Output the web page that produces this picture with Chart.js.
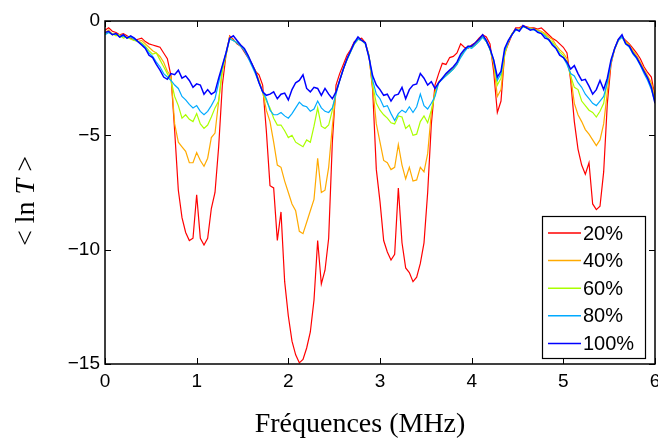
<!DOCTYPE html>
<html>
<head>
<meta charset="utf-8">
<script src="https://cdn.jsdelivr.net/npm/chart.js@4.4.1/dist/chart.umd.min.js"></script>
<style>
  html, body { margin: 0; padding: 0; background: #fff; }
  #wrap { width: 658px; height: 441px; }
</style>
</head>
<body>
<div id="wrap"><canvas id="chart" width="658" height="441"></canvas></div>
<script>
// frequency axis (MHz)
const freq = [
  0, 0.04, 0.08, 0.12, 0.16, 0.2, 0.24, 0.28, 0.32, 0.36,
  0.4, 0.44, 0.48, 0.52, 0.56, 0.6, 0.64, 0.68, 0.72, 0.76,
  0.8, 0.84, 0.88, 0.92, 0.96, 1, 1.04, 1.08, 1.12, 1.16,
  1.2, 1.24, 1.28, 1.32, 1.36, 1.4, 1.44, 1.48, 1.52, 1.56,
  1.6, 1.64, 1.68, 1.72, 1.76, 1.8, 1.84, 1.88, 1.92, 1.96,
  2, 2.04, 2.08, 2.12, 2.16, 2.2, 2.24, 2.28, 2.32, 2.36,
  2.4, 2.44, 2.48, 2.52, 2.56, 2.6, 2.64, 2.68, 2.72, 2.76,
  2.8, 2.84, 2.88, 2.92, 2.96, 3, 3.04, 3.08, 3.12, 3.16,
  3.2, 3.24, 3.28, 3.32, 3.36, 3.4, 3.44, 3.48, 3.52, 3.56,
  3.6, 3.64, 3.68, 3.72, 3.76, 3.8, 3.84, 3.88, 3.92, 3.96,
  4, 4.04, 4.08, 4.12, 4.16, 4.2, 4.24, 4.28, 4.32, 4.36,
  4.4, 4.44, 4.48, 4.52, 4.56, 4.6, 4.64, 4.68, 4.72, 4.76,
  4.8, 4.84, 4.88, 4.92, 4.96, 5, 5.04, 5.08, 5.12, 5.16,
  5.2, 5.24, 5.28, 5.32, 5.36, 5.4, 5.44, 5.48, 5.52, 5.56,
  5.6, 5.64, 5.68, 5.72, 5.76, 5.8, 5.84, 5.88, 5.92, 5.96,
  6
];

// <ln T> pour chaque taux
const lnT20 = [
  -0.4, -0.3, -0.45, -0.5, -0.6, -0.55, -0.65, -0.75, -0.85, -0.8,
  -0.75, -0.9, -1.0, -1.05, -1.1, -1.15, -1.4, -1.65, -2.4, -4.8,
  -7.4, -8.6, -9.25, -9.6, -9.5, -7.6, -9.5, -9.8, -9.5, -8.2,
  -7.5, -5.5, -2.8, -1.5, -0.65, -0.8, -1.0, -1.1, -1.35, -1.6,
  -1.85, -2.2, -2.35, -2.8, -4.8, -7.2, -7.3, -9.6, -8.35, -11.4,
  -12.9, -14.0, -14.6, -14.95, -14.8, -14.3, -13.6, -12.2, -9.6, -11.5,
  -10.9, -9.5, -5.3, -2.8, -2.3, -1.9, -1.5, -1.25, -0.9, -0.8,
  -0.75, -0.95, -1.5, -3.0, -6.5, -7.9, -9.6, -10.1, -10.45, -10.2,
  -7.3, -9.7, -10.8, -11.0, -11.4, -11.2, -10.6, -9.7, -7.5, -4.5,
  -2.8, -2.3, -1.85, -1.9, -1.6, -1.55, -1.4, -1.0, -1.15, -1.2,
  -1.05, -0.95, -0.75, -0.6, -0.7, -1.0, -2.2, -4.0, -3.5, -1.4,
  -1.0, -0.6, -0.3, -0.3, -0.2, -0.25, -0.3, -0.3, -0.35, -0.3,
  -0.45, -0.6, -0.75, -0.85, -1.0, -1.15, -1.4, -2.6, -4.4, -5.6,
  -6.3, -6.7, -6.2, -8.0, -8.25, -8.1, -6.6, -3.6, -1.9, -1.2,
  -0.8, -0.7, -0.85, -1.0, -1.2, -1.4, -1.65, -2.0, -2.25, -2.45,
  -3.3
];
const lnT40 = [
  -0.5, -0.4, -0.6, -0.55, -0.7, -0.65, -0.75, -0.7, -0.8, -0.9,
  -0.85, -1.0, -1.15, -1.3, -1.4, -1.55, -1.8, -2.2, -2.4, -4.5,
  -5.3, -5.5, -5.7, -6.2, -6.2, -5.75, -6.1, -6.35, -6.0, -5.1,
  -4.9, -3.5, -2.1, -1.4, -0.7, -0.85, -0.95, -1.05, -1.25, -1.5,
  -1.9, -2.15, -2.6, -3.1, -3.9, -4.4, -5.3, -6.3, -6.4, -7.0,
  -7.5, -8.0, -8.3, -9.2, -9.3, -8.8, -8.3, -7.8, -6.0, -7.5,
  -7.4, -6.4, -4.6, -3.1, -2.6, -2.1, -1.7, -1.3, -1.0, -0.8,
  -0.85, -1.0, -1.55, -2.9, -4.5, -5.3, -6.1, -6.2, -6.5, -6.4,
  -5.4, -6.3, -6.9, -6.4, -7.0, -6.95, -6.4, -6.6, -5.8, -4.0,
  -3.1, -2.65, -2.5, -2.35, -2.2, -2.05, -1.85, -1.5, -1.3, -1.1,
  -1.15, -1.0, -0.85, -0.65, -0.9, -1.2, -1.9, -3.3, -3.0, -1.5,
  -0.9, -0.55, -0.35, -0.35, -0.2, -0.3, -0.3, -0.35, -0.4, -0.45,
  -0.55, -0.7, -0.8, -1.05, -1.25, -1.4, -1.65, -2.4, -3.6, -4.1,
  -4.4, -4.75, -4.95, -5.2, -5.45, -5.2, -4.5, -3.1, -1.8, -1.25,
  -0.85, -0.7, -0.9, -1.05, -1.3, -1.5, -1.8, -2.1, -2.4, -2.7,
  -3.4
];
const lnT60 = [
  -0.55, -0.5, -0.55, -0.65, -0.6, -0.75, -0.7, -0.8, -0.85, -0.9,
  -0.95, -1.1, -1.3, -1.45, -1.4, -1.7, -2.0, -2.3, -2.6, -3.3,
  -3.7, -4.25, -4.1, -4.3, -4.4, -4.05, -4.5, -4.7, -4.55, -4.2,
  -3.8, -3.5, -2.2, -1.5, -0.75, -0.85, -0.95, -1.1, -1.25, -1.55,
  -1.9, -2.2, -2.65, -3.1, -3.5, -3.8, -4.25, -4.55, -4.55, -4.8,
  -5.1, -5.0, -5.3, -5.4, -5.5, -5.2, -5.3, -4.6, -3.8, -4.6,
  -4.7, -4.55, -3.9, -3.1, -2.6, -2.1, -1.7, -1.35, -1.0, -0.8,
  -0.85, -1.0, -1.5, -2.8, -3.6, -3.9, -4.1, -4.25, -4.45, -4.5,
  -4.15, -4.2, -4.7, -4.55, -5.0, -4.95, -4.4, -4.15, -4.45, -3.9,
  -3.2, -2.7, -2.5, -2.4, -2.25, -2.1, -1.9, -1.55, -1.3, -1.15,
  -1.15, -1.05, -0.85, -0.7, -0.9, -1.25, -1.8, -2.8, -2.5, -1.4,
  -0.9, -0.55, -0.4, -0.4, -0.25, -0.3, -0.35, -0.35, -0.45, -0.5,
  -0.6, -0.8, -0.9, -1.15, -1.35, -1.5, -1.8, -2.4, -2.9, -3.0,
  -3.5, -3.7, -3.9, -4.0, -4.2, -3.95, -3.6, -2.6, -1.8, -1.2,
  -0.85, -0.7, -0.95, -1.1, -1.35, -1.6, -1.9, -2.2, -2.5, -2.85,
  -3.5
];
const lnT80 = [
  -0.6, -0.5, -0.6, -0.55, -0.7, -0.65, -0.75, -0.7, -0.8, -0.9,
  -1.0, -1.15, -1.4, -1.55, -1.8, -2.0, -2.3, -2.45, -2.6, -2.8,
  -2.95, -3.3, -3.45, -3.65, -3.8, -3.7, -3.95, -4.1, -3.95, -3.7,
  -3.4, -2.7, -2.0, -1.4, -0.8, -0.85, -0.95, -1.1, -1.3, -1.6,
  -1.95, -2.3, -2.7, -3.1, -3.4, -3.9, -4.1, -4.1, -4.0, -4.15,
  -4.25, -4.05, -3.8, -3.55, -3.7, -3.75, -3.95, -3.85, -3.5, -3.8,
  -3.95, -4.0, -3.8, -3.2, -2.6, -2.1, -1.7, -1.35, -1.0, -0.8,
  -0.85, -1.0, -1.55, -2.6, -3.2, -3.4, -3.75, -3.7, -4.05, -4.35,
  -4.05, -3.9, -4.0, -3.75, -4.0, -3.75, -3.2, -3.7, -3.85, -3.6,
  -3.3, -2.7, -2.55, -2.4, -2.25, -2.1, -1.9, -1.6, -1.35, -1.15,
  -1.2, -1.05, -0.9, -0.7, -0.9, -1.25, -1.7, -2.6, -2.3, -1.3,
  -0.9, -0.6, -0.4, -0.4, -0.25, -0.3, -0.35, -0.4, -0.45, -0.55,
  -0.65, -0.85, -1.0, -1.2, -1.45, -1.6, -1.9, -2.3, -2.4, -2.7,
  -2.9, -3.2, -3.4, -3.6, -3.7, -3.5, -3.3, -2.7, -1.8, -1.2,
  -0.85, -0.7, -1.0, -1.15, -1.45, -1.65, -1.95, -2.3, -2.6, -3.0,
  -3.55
];
const lnT100 = [
  -0.5, -0.45, -0.6, -0.55, -0.7, -0.6, -0.75, -0.65, -0.75, -0.9,
  -1.05, -1.2, -1.5, -1.6, -1.9, -2.15, -2.45, -2.55, -2.3, -2.35,
  -2.15, -2.5, -2.4, -2.6, -2.9, -2.75, -2.8, -3.2, -3.0, -3.2,
  -3.1, -2.5, -1.95, -1.4, -0.75, -0.65, -0.85, -1.05, -1.2, -1.5,
  -1.85, -2.2, -2.7, -3.1, -3.25, -3.2, -3.1, -3.4, -3.2, -3.15,
  -3.45, -3.0, -2.7, -2.6, -2.35, -2.95, -3.1, -2.9, -2.95, -3.25,
  -2.95, -3.2, -3.4, -3.1, -2.6, -2.1, -1.65, -1.3, -0.95, -0.7,
  -0.85, -0.95, -1.6, -2.4, -2.8, -3.0, -3.25, -3.2, -3.5, -3.25,
  -3.2, -2.9, -3.4, -3.0, -2.8, -2.75, -2.3, -2.5, -2.8, -2.65,
  -2.95, -2.7, -2.5, -2.3, -2.15, -2.0, -1.8, -1.45, -1.25, -1.1,
  -1.1, -0.95, -0.8, -0.6, -0.85, -1.2, -1.7, -2.45, -2.2, -1.2,
  -0.85, -0.6, -0.35, -0.45, -0.2, -0.3, -0.4, -0.35, -0.5, -0.55,
  -0.75, -0.8, -1.05, -1.2, -1.5, -1.6, -1.8, -2.1, -1.95, -2.3,
  -2.6, -2.55, -2.85, -3.2, -3.0, -2.6, -3.0, -2.5, -1.7, -1.2,
  -0.8, -0.6, -1.0, -1.1, -1.4, -1.6, -1.9, -2.2, -2.5, -2.9,
  -3.6
];

const seriesLabels = ['20%', '40%', '60%', '80%', '100%'];
const seriesColors = ['#ff0000', '#ffaa00', '#aaff00', '#00aaff', '#0000ff'];
const xTicks = [0, 1, 2, 3, 4, 5, 6];
const xTickLabels = ['0', '1', '2', '3', '4', '5', '6'];
const yTicks = [0, -5, -10, -15];
const yTickLabels = ['0', '\u22125', '\u221210', '\u221215'];
const xTitle = 'Fréquences (MHz)';
const yTitleParts = [['< ln ', 'normal'], ['T', 'italic'], [' >', 'normal']];

const allSeries = [lnT20, lnT40, lnT60, lnT80, lnT100];

// cadre + graduations vers l'intérieur (style matlab)
const framePlugin = {
  id: 'frame',
  afterDatasetsDraw(chart) {
    const { ctx, chartArea: a, scales: { x, y } } = chart;
    ctx.save();
    ctx.strokeStyle = '#000';
    ctx.lineWidth = 1;
    ctx.beginPath();
    xTicks.forEach(v => {
      const px = Math.round(x.getPixelForValue(v)) + 0.5;
      ctx.moveTo(px, a.bottom); ctx.lineTo(px, a.bottom - 6);
      ctx.moveTo(px, a.top); ctx.lineTo(px, a.top + 6);
    });
    yTicks.forEach(v => {
      const py = Math.round(y.getPixelForValue(v)) + 0.5;
      ctx.moveTo(a.left, py); ctx.lineTo(a.left + 6, py);
      ctx.moveTo(a.right, py); ctx.lineTo(a.right - 6, py);
    });
    ctx.stroke();
    ctx.lineWidth = 1.5;
    ctx.strokeRect(a.left, a.top, a.right - a.left, a.bottom - a.top);
    ctx.restore();
  }
};

// légende encadrée en bas à droite
const legendBox = {
  id: 'legendBox',
  afterDraw(chart) {
    const { ctx, chartArea: a } = chart;
    const w = 103, h = 142;
    const left = a.right - 10 - w, top = a.bottom - 6 - h;
    ctx.save();
    ctx.fillStyle = '#fff';
    ctx.fillRect(left, top, w, h);
    ctx.strokeStyle = '#000';
    ctx.lineWidth = 1.2;
    ctx.strokeRect(left + 0.5, top + 0.5, w, h);
    ctx.font = '20px "Liberation Sans", Arial, sans-serif';
    ctx.textBaseline = 'middle';
    ctx.fillStyle = '#000';
    chart.data.datasets.forEach((ds, i) => {
      const cy = top + 17 + i * 27.6;
      ctx.strokeStyle = ds.borderColor;
      ctx.lineWidth = 1.5;
      ctx.beginPath();
      ctx.moveTo(left + 6, cy);
      ctx.lineTo(left + 39, cy);
      ctx.stroke();
      ctx.fillText(ds.label, left + 41, cy + 1);
    });
    ctx.restore();
  }
};

// titres des axes
const axisTitles = {
  id: 'axisTitles',
  afterDraw(chart) {
    const { ctx } = chart;
    ctx.save();
    ctx.fillStyle = '#000';
    ctx.font = '28px "Liberation Serif", "Times New Roman", serif';
    ctx.textAlign = 'center';
    ctx.textBaseline = 'alphabetic';
    ctx.fillText(xTitle, 360, 432);

    ctx.translate(27, 201);
    ctx.rotate(-Math.PI / 2);
    ctx.textAlign = 'left';
    ctx.textBaseline = 'middle';
    const fontOf = st => st + ' 28px "Liberation Serif", "Times New Roman", serif';
    let total = 0;
    yTitleParts.forEach(([t, st]) => { ctx.font = fontOf(st); total += ctx.measureText(t).width; });
    let cx = -total / 2;
    yTitleParts.forEach(([t, st]) => {
      ctx.font = fontOf(st);
      ctx.fillText(t, cx, 0);
      cx += ctx.measureText(t).width;
    });
    ctx.restore();
  }
};

const datasets = allSeries.map((vals, i) => ({
  label: seriesLabels[i],
  data: vals.map((v, k) => ({ x: freq[k], y: v })),
  borderColor: seriesColors[i],
  backgroundColor: seriesColors[i],
  borderWidth: i === 4 ? 1.5 : 1.2,
  pointRadius: 0,
  tension: 0,
  fill: false,
  order: 4 - i
}));

new Chart(document.getElementById('chart'), {
  type: 'line',
  data: { datasets },
  options: {
    responsive: false,
    devicePixelRatio: 1,
    animation: false,
    layout: { padding: { top: 21, right: 3, left: 0, bottom: 0 } },
    plugins: {
      legend: { display: false },
      tooltip: { enabled: false }
    },
    scales: {
      x: {
        type: 'linear',
        min: 0,
        max: 6,
        grid: { display: false, drawTicks: false },
        border: { display: false },
        ticks: {
          stepSize: 1,
          maxRotation: 0,
          padding: 6,
          color: '#000',
          font: { family: '"Liberation Sans", Arial, sans-serif', size: 19 },
          callback: v => xTickLabels[xTicks.indexOf(v)]
        },
        afterFit: s => { s.height = 77; s.paddingLeft = 0; s.paddingRight = 0; }
      },
      y: {
        min: -15,
        max: 0,
        grid: { display: false, drawTicks: false },
        border: { display: false },
        ticks: {
          stepSize: 5,
          padding: 5,
          color: '#000',
          font: { family: '"Liberation Sans", Arial, sans-serif', size: 19 },
          callback: v => yTickLabels[yTicks.indexOf(v)]
        },
        afterFit: s => { s.width = 105; s.paddingTop = 0; s.paddingBottom = 0; }
      }
    }
  },
  plugins: [framePlugin, legendBox, axisTitles]
});
</script>
</body>
</html>
